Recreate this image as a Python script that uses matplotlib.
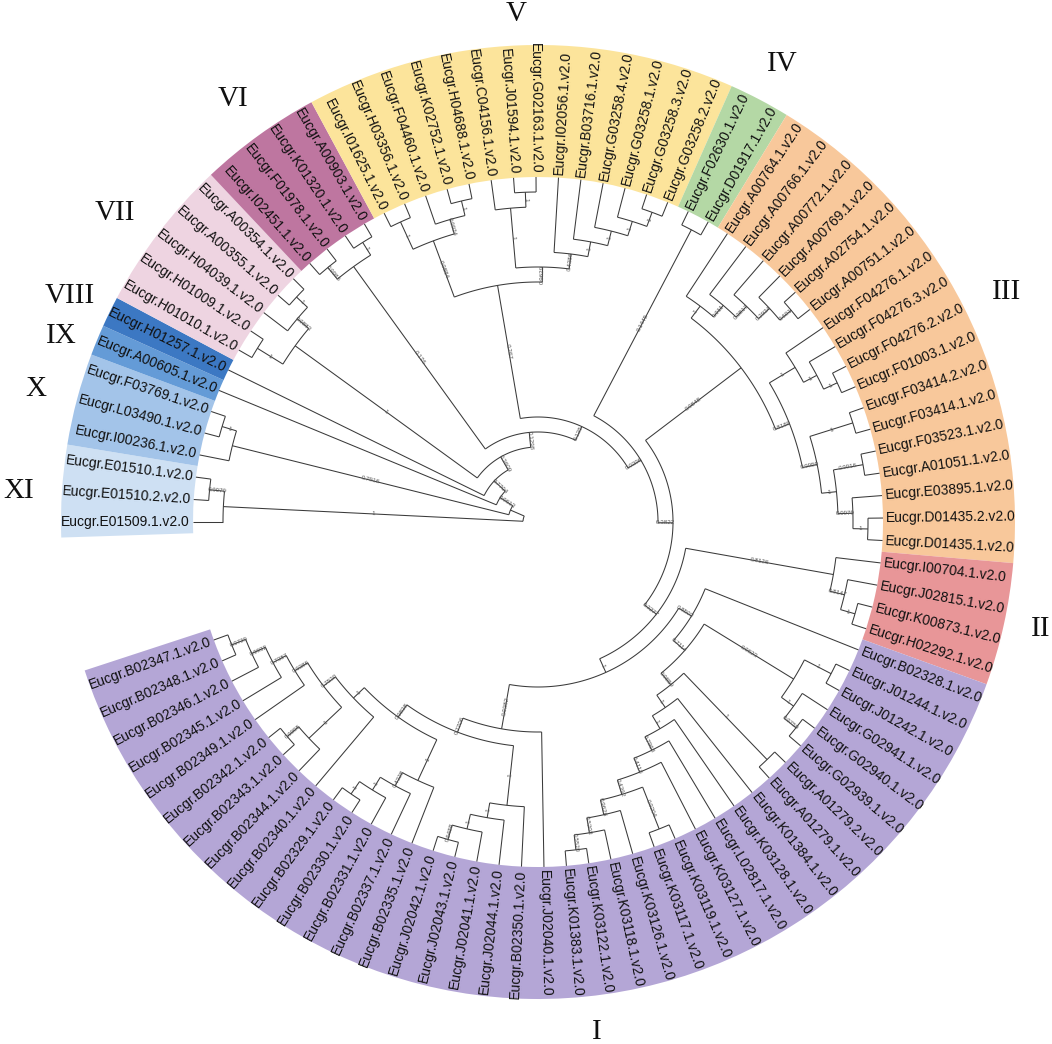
import numpy as np
import matplotlib.pyplot as plt
from matplotlib.patches import Wedge

# clades, clockwise from the left side of the circle
clades = ['XI', 'X', 'IX', 'VIII', 'VII', 'VI', 'V', 'IV', 'III', 'II', 'I']

# topology of every clade (newick, support value after each closing bracket)
clade_trees = [
    "(E01509.1,(E01510.2,E01510.1)0.9979)1",
    "(I00236.1,(L03490.1,F03769.1)1)0.7916",
    "A00605.1",
    "H01257.1",
    "((H01010.1,H01009.1)1,(H04039.1,(A00355.1,A00354.1)1)0.9883)1",
    "((I02451.1,F01978.1)0.9985,(K01320.1,A00903.1)1)0.176",
    "(((I01625.1,H03356.1)1,(F04460.1,(K02752.1,H04688.1)1)0.9924)0.9884,"
    "((C04156.1,(J01594.1,G02163.1)1)1,(I02056.1,(B03716.1,(G03258.4,"
    "(G03258.1,(G03258.3,G03258.2)1)1)1)1)0.4386)0.9629)0.267",
    "(F02630.1,D01917.1)0.1445",
    "((A00764.1,(A00766.1,(A00772.1,(A00769.1,(A02754.1,A00751.1)0.601)0.2934)"
    "0.3817)0.911)1,((F04276.1,(F04276.3,(F04276.2,F01003.1)1)1)1,((F03414.2,"
    "F03414.1)1,((F03523.1,A01051.1)0.9916,(E03895.1,(D01435.2,D01435.1)1)"
    "0.9979)1)0.9959)0.8189)0.9848",
    "(I00704.1,(J02815.1,(K00873.1,H02292.1)1)0.8147)0.8126",
    "((B02328.1,(((J01244.1,J01242.1)1,(G02941.1,(G02940.1,G02939.1)0.9759)1)"
    "0.9623,((A01279.2,A01279.1)1,(K01384.1,(K03128.1,(L02817.1,(K03127.1,"
    "((K03119.1,K03117.1)0.9204,(K03126.1,(K03118.1,(K03122.1,K01383.1)0.5520)"
    "0.5203)0.9626)0.4392)0.4118)0.7968)1)1)0.9859)0.7114)0.8503,(J02040.1,"
    "((B02350.1,(J02044.1,(J02041.1,(J02043.1,J02042.1)0.6488)1)1)1,"
    "((B02335.1,(B02337.1,(B02331.1,(B02330.1,B02329.1)1)1)0.4328)1,"
    "(B02340.1,((B02344.1,(B02343.1,B02342.1)0.9998)1,(B02349.1,(B02345.1,"
    "(B02346.1,(B02348.1,B02347.1)0.9729)0.9932)0.7387)0.9386)0.7530)1)0.9838)"
    "0.7706)0.9382)1",
]

# support of the backbone node that joins clade k with all later clades
backbone_support = ['', '', '0.9613', '0.7704', '0.3609', '0.1298', '0.135',
                    '0.0396', '0.3822', '0.3277']

clade_colors = ['#cee0f3', '#a3c4e9', '#649bd7', '#3c78c3', '#eed4e1', '#be76a0',
                '#fce49b', '#b4d8a5', '#f8c89b', '#e89698', '#b4a6d6']

# where the roman numerals sit (angle in degrees, radius in px)
clade_label_pos = [(176.6, 520), (165.2, 519), (158.7, 512), (154.2, 520),
                   (143.8, 524), (125.8, 521), (92.5, 508), (61.9, 519),
                   (26.1, 522), (-12.0, 514), (-83.4, 513)]

R_LEAF = 345
STEP = 15
BAND_OUT = 477
START, SPAN = 180.0, 340.0

# build the full newick: (XI,(X,(IX,...(III,(II,I))...)))
newick = "(%s,%s)%s" % (clade_trees[9], clade_trees[10], backbone_support[9])
for k in range(8, -1, -1):
    newick = "(%s,%s)%s" % (clade_trees[k], newick, backbone_support[k])


def parse(s):
    pos = 0

    def read():
        nonlocal pos
        st = pos
        while pos < len(s) and s[pos] not in ',()':
            pos += 1
        return s[st:pos]

    def node():
        nonlocal pos
        if s[pos] == '(':
            pos += 1
            kids = [node()]
            while s[pos] == ',':
                pos += 1
                kids.append(node())
            pos += 1
            return {'kids': kids, 'sup': read()}
        return {'kids': [], 'name': read()}

    return node()


def get_leaves(n, out):
    if not n['kids']:
        out.append(n)
    for k in n['kids']:
        get_leaves(k, out)
    return out


tree = parse(newick)
leaves = get_leaves(tree, [])
step_ang = SPAN / (len(leaves) - 1)
for i, lf in enumerate(leaves):
    lf['a'] = START - i * step_ang
    lf['h'] = 0


# cladogram layout: node radius set by its height above the tips
def layout(n):
    if n['kids']:
        for k in n['kids']:
            layout(k)
        n['h'] = 1 + max(k['h'] for k in n['kids'])
        n['a'] = np.mean([k['a'] for k in n['kids']])
    n['r'] = R_LEAF - STEP * n['h']


layout(tree)


def pol(r, a):
    t = np.deg2rad(a)
    return r * np.cos(t), r * np.sin(t)


fig = plt.figure(figsize=(10.52, 10.44), dpi=100)
ax = fig.add_axes([0, 0, 1, 1])
ax.set_xlim(-538, 514)
ax.set_ylim(-522, 522)
ax.axis('off')

# coloured clade bands
sizes = [len(get_leaves(parse(t), [])) for t in clade_trees]
first = np.concatenate([[0], np.cumsum(sizes)[:-1]])
for k, c in enumerate(clade_colors):
    a_hi = START - first[k] * step_ang + step_ang / 2
    a_lo = START - (first[k] + sizes[k] - 1) * step_ang - step_ang / 2
    ax.add_patch(Wedge((0, 0), BAND_OUT, a_lo, a_hi, width=BAND_OUT - R_LEAF,
                       facecolor=c, edgecolor='none', zorder=0))

line_kw = dict(color='#3a3a3a', lw=0.75, zorder=2, solid_capstyle='butt')


def draw(n, parent=None):
    if not n['kids']:
        return
    angs = [k['a'] for k in n['kids']]
    th = np.linspace(min(angs), max(angs), 60)
    x, y = pol(n['r'], th)
    ax.plot(x, y, **line_kw)
    for k in n['kids']:
        x0, y0 = pol(n['r'], k['a'])
        x1, y1 = pol(k['r'], k['a'])
        ax.plot([x0, x1], [y0, y1], **line_kw)
        draw(k, n)
    if parent is not None and n['sup']:
        rm = (n['r'] + parent['r']) / 2
        x, y = pol(rm, n['a'])
        rot = n['a'] if -90 <= n['a'] <= 90 else n['a'] - 180
        ax.text(x, y, n['sup'], fontsize=4.5, color='#555555', rotation=rot,
                ha='center', va='center', rotation_mode='anchor',
                family='Liberation Sans', zorder=3)


draw(tree)

# leaf labels
for lf in leaves:
    a = lf['a']
    x, y = pol(R_LEAF + 3, a)
    if -90 <= a <= 90:
        rot, ha = a, 'left'
    else:
        rot, ha = a - 180, 'right'
    ax.text(x, y, 'Eucgr.%s.v2.0' % lf['name'], fontsize=10, rotation=rot,
            ha=ha, va='center', rotation_mode='anchor', color='#111111',
            family='Liberation Sans', zorder=3)

# clade numerals
for name, (a, r) in zip(clades, clade_label_pos):
    x, y = pol(r, a)
    ax.text(x, y, name, fontsize=21, ha='center', va='center',
            family='Liberation Serif', color='#111111')

fig.savefig('out.png', dpi=100)
